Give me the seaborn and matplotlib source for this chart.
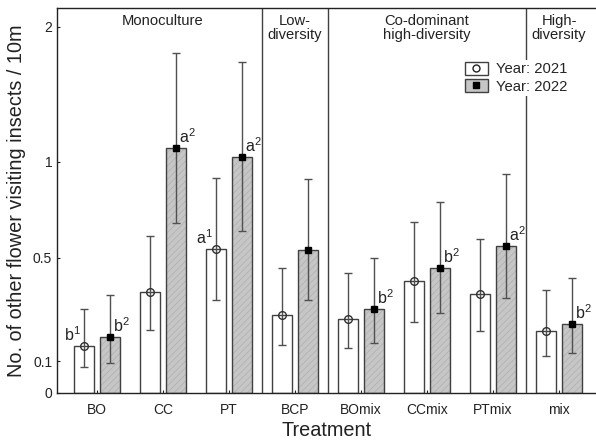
import numpy as np
import pandas as pd
import matplotlib
matplotlib.use("Agg")
import matplotlib.pyplot as plt
from matplotlib.patches import Patch, Rectangle
from matplotlib.lines import Line2D
import seaborn as sns

categories = ["BO", "CC", "PT", "BCP", "BOmix", "CCmix", "PTmix", "mix"]
mean_2021 = [0.151, 0.353, 0.539, 0.265, 0.250, 0.398, 0.346, 0.206]
lo_2021 = [0.081, 0.208, 0.321, 0.154, 0.146, 0.236, 0.204, 0.116]
hi_2021 = [0.287, 0.603, 0.904, 0.454, 0.432, 0.672, 0.586, 0.362]
mean_2022 = [0.182, 1.084, 1.032, 0.537, 0.285, 0.456, 0.554, 0.231]
lo_2022 = [0.094, 0.664, 0.626, 0.322, 0.163, 0.270, 0.330, 0.128]
hi_2022 = [0.343, 1.776, 1.699, 0.899, 0.498, 0.775, 0.927, 0.413]
letters_2021 = ["b1", "", "a1", "", "", "", "", ""]
letters_2022 = ["b2", "a2", "a2", "", "b2", "b2", "a2", "b2"]
years = ["Year: 2021", "Year: 2022"]
group_labels = ["Monoculture", "Low-\ndiversity", "Co-dominant\nhigh-diversity", "High-\ndiversity"]
group_first = [0, 3, 4, 7]
group_last = [2, 3, 6, 7]
yticks = [0, 0.1, 0.5, 1, 2]

sns.set_style("ticks")
plt.rcParams["font.family"] = ["Liberation Sans", "DejaVu Sans"]
plt.rcParams["mathtext.fontset"] = "custom"
plt.rcParams["mathtext.rm"] = "Liberation Sans"
plt.rcParams["mathtext.it"] = "Liberation Sans"
plt.rcParams["mathtext.default"] = "regular"
plt.rcParams["hatch.linewidth"] = 0.6

df = pd.DataFrame({
    "Treatment": categories * 2,
    "Year": [years[0]] * len(categories) + [years[1]] * len(categories),
    "value": mean_2021 + mean_2022,
})

fig = plt.figure(figsize=(5.96, 4.43), dpi=100)
ax = fig.add_axes([57 / 596, 1 - 393 / 443, 1 - 57 / 596, 385 / 443])

sns.barplot(data=df, x="Treatment", y="value", hue="Year", order=categories,
            hue_order=years, palette={years[0]: "white", years[1]: "#c6c6c6"},
            gap=0.25, errorbar=None, edgecolor="#404040", linewidth=1.0,
            legend=False, ax=ax)

ax.set_yscale("function", functions=(np.log1p, np.expm1))
ax.set_ylim(0, 2.174)
ax.set_xlim(-0.606, 7.56)

# subtle hatch for 2022 bars
for p in ax.containers[1]:
    p.set_hatch("/////")
    p.set_edgecolor("#b2b2b2")
    p.set_linewidth(0)
    r = Rectangle(p.get_xy(), p.get_width(), p.get_height(), fill=False,
                  edgecolor="#404040", linewidth=1.0, zorder=p.get_zorder() + 0.1)
    ax.add_patch(r)

ecol = "#505050"
series = [(mean_2021, lo_2021, hi_2021, letters_2021, 0),
          (mean_2022, lo_2022, hi_2022, letters_2022, 1)]
for means, lo, hi, letters, k in series:
    xs = [p.get_x() + p.get_width() / 2 for p in ax.containers[k]]
    m = np.array(means)
    yerr = np.vstack([m - np.array(lo), np.array(hi) - m])
    if k == 0:
        ax.errorbar(xs, m, yerr=yerr, fmt="o", color=ecol, ecolor=ecol,
                    elinewidth=1.0, capsize=2.6, capthick=1.0, markersize=5.5,
                    markerfacecolor="none", markeredgecolor="#303030",
                    markeredgewidth=1.0, zorder=5)
    else:
        ax.errorbar(xs, m, yerr=yerr, fmt="s", color="black", ecolor=ecol,
                    elinewidth=1.0, capsize=2.6, capthick=1.0, markersize=5,
                    markerfacecolor="black", markeredgecolor="black", zorder=5)
    for x, y, t in zip(xs, m, letters):
        if not t:
            continue
        label = t[0] + r"$^{" + t[1:] + "}$"
        if k == 0:
            ax.annotate(label, (x, y), xytext=(-2, 1.5), textcoords="offset points",
                        ha="right", va="bottom", fontsize=11.5, color="#222222")
        else:
            ax.annotate(label, (x, y), xytext=(2, 1.5), textcoords="offset points",
                        ha="left", va="bottom", fontsize=11.5, color="#222222")

# group separators and labels
for i in range(len(group_first) - 1):
    ax.axvline(group_last[i] + 0.5, color="#404040", lw=1.0, zorder=1)
for lab, a, b in zip(group_labels, group_first, group_last):
    ax.text((a + b) / 2, 0.985, lab, transform=ax.get_xaxis_transform(),
            ha="center", va="top", fontsize=10.6, color="#222222", linespacing=1.05)

ax.set_yticks(yticks)
ax.set_yticklabels([str(t) for t in yticks])
ax.tick_params(axis="both", direction="in", length=2.5, width=0.8,
               labelsize=10, colors="#222222")
ax.tick_params(axis="x", pad=7)
for s in ["left", "bottom", "top"]:
    ax.spines[s].set_color("#222222")
    ax.spines[s].set_linewidth(1.0)
ax.spines["right"].set_visible(False)

ax.set_xlabel("Treatment", fontsize=14.3, color="#222222", labelpad=3)
ax.set_ylabel("No. of other flower visiting insects / 10m", fontsize=14.3,
              color="#222222", labelpad=5)

handles = [
    (Patch(facecolor="white", edgecolor="#404040", linewidth=1.0),
     Line2D([], [], marker="o", ls="", markersize=5, markerfacecolor="none",
            markeredgecolor="#222222")),
    (Patch(facecolor="#c6c6c6", edgecolor="#404040", linewidth=1.0),
     Line2D([], [], marker="s", ls="", markersize=5, markerfacecolor="black",
            markeredgecolor="black")),
]
leg = ax.legend(handles, years, loc="upper left", bbox_to_anchor=(0.752, 0.866),
                frameon=True, fancybox=False, framealpha=1, edgecolor="none",
                facecolor="white", fontsize=10.7, handlelength=1.6, handleheight=0.95,
                handletextpad=0.5, borderpad=0.15, labelspacing=0.2,
                borderaxespad=0)
leg.set_zorder(10)

fig.savefig("out.png", dpi=100)
